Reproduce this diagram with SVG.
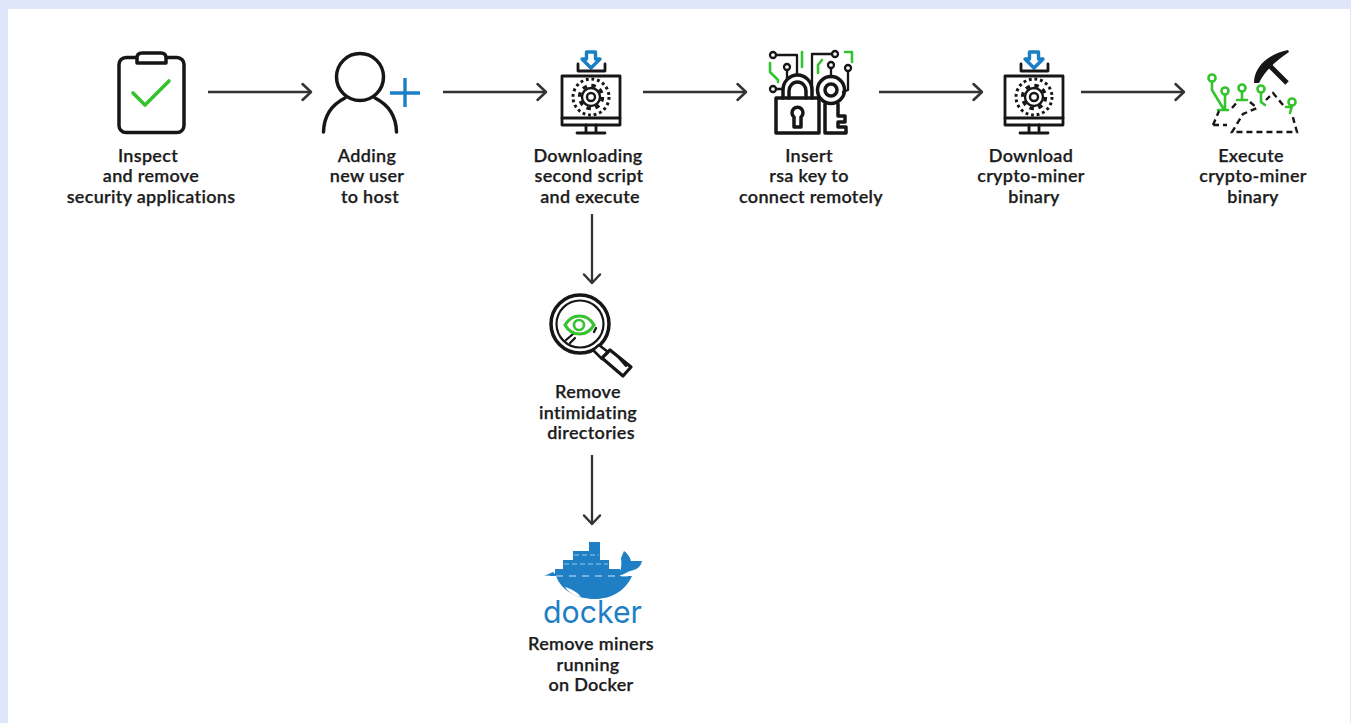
<svg xmlns="http://www.w3.org/2000/svg" width="1351" height="723" viewBox="0 0 1351 723">
<style>
.lbl{font-family:"Lato","Noto Sans",sans-serif;font-size:18px;font-weight:600;letter-spacing:.3px;fill:#1c1c1c;stroke:#1c1c1c;stroke-width:.25;text-anchor:middle}
.k{fill:none;stroke:#161616;stroke-width:3.500;stroke-linecap:round;stroke-linejoin:round}
.k2{fill:none;stroke:#161616;stroke-width:2.300;stroke-linecap:round;stroke-linejoin:round}
.g{fill:none;stroke:#35c22f;stroke-width:2.600;stroke-linecap:round;stroke-linejoin:round}
.b{fill:none;stroke:#1b7fc6;stroke-width:3.400;stroke-linejoin:round}
.d{fill:#1f7fc4}
.c{fill:none;stroke:#333;stroke-width:2.300;marker-end:url(#ah)}
.dash{fill:none;stroke:#161616;stroke-width:2.400;stroke-dasharray:6 4}
</style>
<defs>
<marker id="ah" markerUnits="userSpaceOnUse" markerWidth="12" markerHeight="20" refX="10" refY="9" orient="auto" overflow="visible">
<path d="M1.500 1 L10 9 L1.500 17" fill="none" stroke="#333" stroke-width="2.500" stroke-linecap="round" stroke-linejoin="round"/>
</marker>
<g id="monitor">
<path class="b" d="M-4.500 -45 H4.500 V-38 H9 L0 -29 L-9 -38 H-4.500 Z"/>
<path class="k" style="stroke-width:2.800" d="M-13 -33 V-26 H14 V-33"/>
<rect class="k" style="stroke-width:2.800" x="-29" y="-21" width="58" height="49"/>
<path class="k" style="stroke-width:2.800" d="M-29 21 H29 M-5 28 V35 M5 28 V35 M-14 36 H14"/>
<circle cx="0" cy="0" r="18" fill="none" stroke="#161616" stroke-width="3" stroke-dasharray="2.800 2.850"/>
<circle cx="0" cy="0" r="11.500" fill="none" stroke="#161616" stroke-width="3.400" stroke-dasharray="4.500 4.530"/>
<circle cx="0" cy="0" r="9" fill="none" stroke="#161616" stroke-width="2.400"/>
<circle cx="0" cy="0" r="4" fill="none" stroke="#161616" stroke-width="2.400"/>
</g>
</defs>
<rect width="1351" height="723" fill="#dfe5fa"/>
<rect x="8" y="9" width="1342" height="714" fill="#fff"/>
<g id="connectors">
<path class="c" d="M208 92 H311"/>
<path class="c" d="M443 92 H546"/>
<path class="c" d="M643 92 H746"/>
<path class="c" d="M879 92 H982"/>
<path class="c" d="M1081 92 H1184"/>
<path class="c" d="M592 214 V283"/>
<path class="c" d="M592 455 V524"/>
</g>
<g id="node-inspect">
<rect class="k" x="119" y="57.500" width="65" height="75" rx="7"/>
<path class="k" style="fill:#fff" d="M137 63 V58 Q137 53 142 53 H161 Q166 53 166 58 V63 Z"/>
<path class="g" style="stroke-width:3.600" d="M133 93 L145 105 L169 81"/>
<text class="lbl" x="148" y="162">Inspect</text>
<text class="lbl" x="151" y="182">and remove</text>
<text class="lbl" x="151" y="203">security applications</text>
</g>
<g id="node-user">
<circle class="k" cx="360" cy="77" r="23.500"/>
<path class="k" d="M323.500 132 C324 115 333 104 345 98 M375 98 C387 104 396 115 396.500 132"/>
<path class="b" d="M390 93 H420 M405 78 V107"/>
<text class="lbl" x="367" y="162">Adding</text>
<text class="lbl" x="367" y="182">new user</text>
<text class="lbl" x="370" y="203">to host</text>
</g>
<g id="node-download-script">
<use href="#monitor" x="591" y="97"/>
<text class="lbl" x="588" y="162">Downloading</text>
<text class="lbl" x="589" y="182">second script</text>
<text class="lbl" x="590" y="203">and execute</text>
</g>
<g id="node-rsa">
<rect class="k" x="776" y="98" width="43" height="35"/>
<path class="k" d="M783 98 V90 A14.500 15 0 0 1 812 90 V98 M789 98 V91 A8.500 9 0 0 1 806 91 V98"/>
<path class="k" d="M794 117 V127 H801 V117 A5.500 5.500 0 1 0 794 117 Z"/>
<circle class="k" cx="831" cy="90" r="13.500"/>
<circle class="k" cx="831" cy="90" r="6"/>
<path class="k" d="M825 104 V133 H846 V127 H838 V122 H845 V116 H838 V104"/>
<circle class="k2" cx="773" cy="55" r="3"/><path class="k2" d="M776 55 H797 V75"/>
<circle class="k2" cx="787" cy="67" r="3"/><path class="k2" d="M787 70 V80"/>
<circle class="k2" cx="773" cy="89" r="3"/><path class="k2" d="M776 89 H782"/>
<circle class="k2" cx="835" cy="54" r="3"/><path class="k2" d="M832 54 H812 V93"/>
<circle class="k2" cx="831" cy="65" r="3"/><path class="k2" d="M831 68 V77"/>
<circle class="k2" cx="848" cy="68" r="3"/><path class="k2" d="M848 71 V90 L843 92"/>
<path class="g" d="M802 52 V67 M770 63 V72 L778 80 V82 M822 60 L818 65 V73 M845 52 H852 V62"/>
<text class="lbl" x="809" y="162">Insert</text>
<text class="lbl" x="809" y="182">rsa key to</text>
<text class="lbl" x="811" y="203">connect remotely</text>
</g>
<g id="node-download-miner">
<use href="#monitor" x="1034" y="97"/>
<text class="lbl" x="1031" y="162">Download</text>
<text class="lbl" x="1031" y="182">crypto-miner</text>
<text class="lbl" x="1034" y="203">binary</text>
</g>
<g id="node-execute">
<path fill="#161616" d="M1254 83 C1254 67 1268 54 1288 50 L1289 52 C1277 60 1265 70 1259 83 Z"/>
<path d="M1267 63 L1287 83" fill="none" stroke="#161616" stroke-width="5"/>
<g class="g">
<circle cx="1212" cy="78" r="3.500"/><path d="M1212 82 V90 L1223 108"/>
<circle cx="1225" cy="91" r="3.500"/><path d="M1225 95 V109 M1218 110 H1228"/>
<circle cx="1242" cy="88" r="3.500"/><path d="M1242 92 V100 M1237 100 H1247"/>
<circle cx="1261" cy="89" r="3.500"/><path d="M1261 93 V102 L1265 105"/>
<circle cx="1292" cy="102" r="3.500"/><path d="M1292 106 L1290 113 M1286 107 H1290"/>
</g>
<path class="dash" d="M1213 125 L1219 111 M1213 125 H1227 M1232 108 L1238 101 M1250 102 L1257 108 L1243 114 L1232 132 H1297 L1292 114 M1283 105 L1273 93 L1266 100"/>
<text class="lbl" x="1251" y="162">Execute</text>
<text class="lbl" x="1253" y="182">crypto-miner</text>
<text class="lbl" x="1253" y="203">binary</text>
</g>
<g id="node-remove-directories">
<circle cx="580" cy="324" r="29" fill="none" stroke="#161616" stroke-width="3.500"/>
<circle cx="580" cy="324" r="23.500" fill="none" stroke="#161616" stroke-width="2.200"/>
<path d="M599 345 L608 352 L602 359 L593 350 Z" fill="#fff" stroke="#161616" stroke-width="2.600" stroke-linejoin="round"/>
<path d="M610 350 L631 367 L623 376 L602 358 Z" fill="#fff" stroke="#161616" stroke-width="3.200" stroke-linejoin="round"/>
<path class="k2" d="M619 358 L626 366 M594 332 L596 328 M566 340 L573 334 M570 343 L575 338"/>
<path class="g" style="stroke-width:3.200" d="M565 325 C572 313 587 313 594 325 M565 325 C572 337 587 337 594 325"/>
<circle class="g" cx="579" cy="325" r="5"/>
<text class="lbl" x="588" y="398">Remove</text>
<text class="lbl" x="588" y="419">intimidating</text>
<text class="lbl" x="591" y="439">directories</text>
</g>
<g id="node-docker">
<g class="d">
<rect x="589" y="542" width="11" height="9"/>
<rect x="573" y="551" width="27" height="9"/>
<rect x="563" y="560" width="46" height="9"/>
<rect x="555" y="569" width="65" height="7"/>
<path d="M544 576 L553 572 L557 576 H616 C621 573 622 566 621 558 L624 551 C627 553 630 557 631 561 L642 561 C641 567 636 570 630 571 C624 574 620 576 616 576 L640 576 H632 C626 590 612 599 595 599 C576 599 561 590 556 576 Z"/>
</g>
<path d="M565 587 C572 589 577 592 581 597 C574 596 568 592 565 587 Z" fill="#fff"/>
<path d="M543 576 H641" stroke="#fff" stroke-width="0.800" stroke-dasharray="7 6"/>
<path d="M574 555 H599 M564 564 H608" stroke="#bcdcf2" stroke-width="0.800" stroke-dasharray="5 3"/>
<text x="592.500" y="623" text-anchor="middle" textLength="99" lengthAdjust="spacingAndGlyphs" font-family="Inter, Lato, sans-serif" font-size="31" font-weight="400" fill="#1f7fc4">docker</text>
<text class="lbl" x="591" y="650">Remove miners</text>
<text class="lbl" x="588" y="671">running</text>
<text class="lbl" x="591" y="691">on Docker</text>
</g>
</svg>
